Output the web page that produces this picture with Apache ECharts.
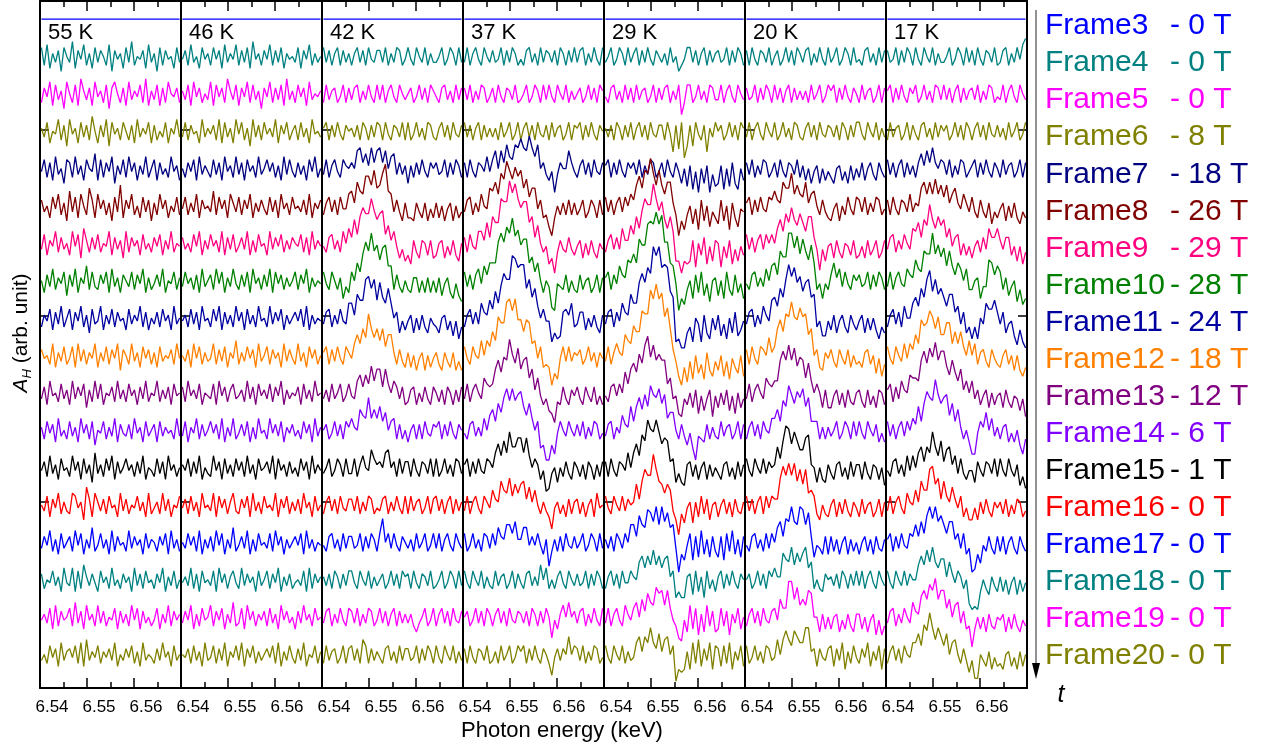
<!DOCTYPE html>
<html><head><meta charset="utf-8">
<script src="https://cdn.jsdelivr.net/npm/echarts@6/dist/echarts.min.js"></script>
<style>html,body{margin:0;padding:0;background:#fff}#c{width:1266px;height:750px}</style>
</head><body><div id="c"></div>
<script>
// ---------------- data ----------------
const temperatures = ['55 K','46 K','42 K','37 K','29 K','20 K','17 K'];
const frameNames = ['Frame3','Frame4','Frame5','Frame6','Frame7','Frame8','Frame9','Frame10','Frame11','Frame12','Frame13','Frame14','Frame15','Frame16','Frame17','Frame18','Frame19','Frame20'];
const fieldLabels = ['0 T','0 T','0 T','8 T','18 T','26 T','29 T','28 T','24 T','18 T','12 T','6 T','1 T','0 T','0 T','0 T','0 T','0 T'];
const energies = [6.5403,6.5409,6.5415,6.5421,6.5427,6.5433,6.5439,6.5445,6.5451,6.5457,
6.5463,6.5469,6.5475,6.5481,6.5487,6.5493,6.5499,6.5505,6.5511,6.5517,
6.5523,6.5529,6.5535,6.5541,6.5547,6.5553,6.5559,6.5565,6.5571,6.5577,
6.5583,6.5589,6.5595,6.5601,6.5607,6.5613,6.5619,6.5625,6.5631,6.5637,
6.5643,6.5649,6.5655,6.5661,6.5667,6.5673,6.5679,6.5685,6.5691,6.5697];
// one character per sample: '0'..'9' below the frame baseline, 'a' = baseline, 'b'..'z' above
const frame3Trace = 'aaaaaaaaaaaaaaaaaaaaaaaaaaaaaaaaaaaaaaaaaaaaaaaaaa';
const trace55K = [
'd7e6b8c5da8f6c9e7b6d8ca7e5c9b6d8f7a9c6e8b5d7c9a6d8',
'7c9e6d8b5ea7d6fb8c6e9b7d5cea7c6e8b9d7f6b8d6c7ea9c7',
'b8d6a9e7c5e9b6d8c7fa6c8e5d9b7da7c6e8b9d6c7a8d6b9e8',
'9d7c6e8a5dc7e8b6da9f6d7c9e5b8d7e9c6b8e7ad6c8a7e9b6',
'c8a6d9e7b5f8d6ea7gc6e9c7b5d8h6c9e7a6d8c5b7e9c6a8d7',
'8d6b9e7c8a6e9d5fb7c8d7a9e6c8b5e7c9b6d8a7c9d6b8e7a9',
'a6c8e7b9d5c8e6b9f7d87c9d6e8b6ca8d7c9e6b79c8e6a9d7b',
'7b9d6c8e7ad6c9e7b5d89e6b8d7c9a6d8b9e7c6a8c7d9b6e8a',
'c9a7e6b8d79d6e8c7b9e6b8d7c9e5ca7e8b6d9c7b6d8a9c7e9',
'8c6e9a7d8b6e8c9d5b7e8d6a9c7e8b7d9b6c8e7a9e7b8c6d9a',
'b7d9c6e8a7d8b6e9c7d5a9d7b8e6c98c7e9b6d8ac6d8b9a7e8',
'9c7e8b6d9a7e9c6d8b5f8b7d9e6c8ad9b7c8e6a97d8c6e9b7a',
'a8d6c9e7b87ed9b5gc6eb8c7d9a6e8c7a9d8b6e79b7e8c6a9d',
'8c9e7b6d8ac7e9d6b8f79d8b6e7c9a7e8c9b6d8ba7c9d6e8b7',
'c7a9d8b6e98e6d7fb8c96d9b7e8a7c9b6e8c7d9a7c9e6b8d7a',
'9b8d6e7c9ad7f8c6e9b7e8c7a9d6c8b7e9d6c8a79d6b8e7c9b',
'8a7d9c6e8bc9d7e6f8b9d7b9c8e6a8c9d7b6e8a97c8e9b6d8a'];
const trace46K = [
'9c7e8a6d9b7d9c6e8b9e7c8d6f9b7c9e7c8d6b9a8d6c9e7b8a',
'b8d6e9c7a8e6d9c7fb8d6c9e7d8b5c9e7c8d6f8b7d9c6e8a9b',
'8d7c9a6e8b9c7e6d8b6e9d7b5e8c7d9b8e6c9d7ac7d8b6e9a8',
'a7c9d6e8b97d8c6e9b7e8c6d9b7e8ad9c7b6e8d97c8b6d9e7a',
'9d7b8e6c9a8f7d9c6eb8d7c9e6b8c97d8c6e9b7d9a8c7e6b9c',
'c8a7d9e6b8d9b7e6c8d79c8e6b7d9a6e8c9d7b8ca9d7c6e8b9',
'8d9b7c6e8ac7e9d6b8e97c8d6e9b7c8e6d9c7b8ad7c9e6b8a9',
'9b7d8c6e9a7d9e6c8b7e9c6d8b7e9a7e8c9d6b8ac9d7e6b8a9',
'a8c6e9d7b89e7c8d6b9f7b8d9c6e8ad7c9b6e8c97e8b6d9c7a',
'c7e9b8d6a98d6e9c7bd89b7e8c6d9b8d7c9e6b8a9c6d8b7e9a',
'8d6b9e7c8ad9c7e6b8e79c8d6b7e9a7e9c8d6b9c8a7d9c6e8b',
'b9d7c8e6a87e9c6d8b7d9c7e8b6d9ac8e6d9b7c8a7d9c6e8b9',
'9c7d8b6e9a8e6d9c7be87c9d6e8b7d9a8e6c9d7b8c7e9b6d8a',
'a8d9c7e6b8c7e9d6b8f79c8e6b7d9a8d7e9c6b8ac9d6e8b7a9',
'9b8e7c6d9a8d6e9c7bd97e8c9b6d8ad7c9e6b8c79a8d6e7c9b',
'8c9e6b7d9ae7c9d6b8f78d6e9c7b9c7d8b6e9c8a6c8e9b7d9a',
'a9c7d8b6e89d7c8e6b9d8e6c9d7b8ac9d7e6b8d97c8e6a9d7b'];
const trace42K = [
'd8c7bd7c8b7bd8c7d98cc8d7b8dc79d97da8d7b88ad79db7d8',
'7d8bc79d7c8cd7b8d97d8d7bd97da8ac79d8c7db97cd8b7d8c',
'bd7c8d97cab8c7db7c8dc7d97cb8d7d79d8b7dc87bd8c7d98c',
'8d7bd97dbacaghcfbhcghcgaef8c8b5b7c8d97cac89d7c8db7',
'7bd8c7d99efbifekkhmghlofe8c85b665b86b596b6a59b5a68',
'97cd8b7eafcidjmkkplikldgbe958463b75ba6b56ab596b64a',
'd97da7b486dagdjnkqkmhlmff7c86a76bb6a6b6a6b59b64953',
'8cd7b8d98ffbiggnokngmhfkfac5969b5a6b75a875ab694937',
'bd7c8d97db9ehejgojgjfjdhhb7c86b6a59b5a69b75b86b585',
'8b7d8ad79d98egcgdjeiicidaec8c67bc6a7c86ca7b6ca6b7c',
'ac79d8c7dbebahfeleheidgade7c7a6ac7c7d98cbd7c8d97ca',
'8ad79db7d88d7bea9gdbcafgac7d8cc7d97cb8d7d79d8b7dc8',
'7bd8c7d98cc8d7b8dc798cd7b8d97d7d8bc79d7cd8c7bd7c8b',
'97cd8b7d8cc89d7c8db7diad8d97ca8b7d8ad79d8d7bd97da8',
'b8c7db7c8dd97da8d7b8ac79d8c7dbc7d97cb8d78ad79db7d8',
'8cd7b8d97dc8d7b8dc79d8c7bd7c8b8b758ad79d7bd8c7d98c',
'7d8bc79d7cd8c7fd7c8b97cd8b7d8cc89d7c8db7d97da8d7b8'];
const trace37K = [
'8d7bd97da8c89d7c8db797cd8b7d8cb8c7db7c8d8cd7b8d97d',
'c8d7b8dc79c7d97cb8d78ad79db7d8d97da8d7b8ac79d8c7db',
'd8c7bd7c8b8b7d8ad79d7bd8c7d98c7d8bc79d7cbd7c8d97ca',
'c7d97cb9e9dgagciedihkhglheiac86928caagc97bd8c7d98c',
'8cd7b8ea9gfieljpmjnkmgjdgg9c67306a7b7c7b79c68ca6c7',
'c7d98eebhcjhhpoovrupmoohjcga793507b87c869b5a6b75a8',
'd8c7ce9fcgggnqnsqvprmoogidga6a810987c6a76c7ab68c6b',
'7bd8c8fcbgdjflpnnvurssknhkead992534cdbf78cc6a7b75b',
'd97da9fafdifnllstptmmimlef9d6760429d8d8bac79d8b6b9',
'8d7bda8fdcdilhmlsnkpilmfibf96843076c86b9c86c97c696',
'97cd8b8eafhdjglokokmnifjead4500529da8da8c8d7b8dc79',
'bd7c8d98dcafiejfmhhkkfkeadb69238a5a7c86ca7b6ca6b7c',
'8d7bd97db9fcbifejdhehicgbfa7b8629b7a6c7bc7b6ac6e9a',
'd79d8b7dc8d9fcbggdhbbff9c9d96b27b7c7d98c8ad79db7d8',
'd97da8d7b87d8bc79d7c97cd8b8fae7a7bd97da8c89d7c8db7',
'ac79d8c7db7bd8c7d98cb8c7db7c8da396beafac8cd7b8d97d',
'c7d97cb8d78b7d8ad79dbd7c8d97ca739c8cagadc8d7b8dc79'];
const trace29K = [
'8ad79db7d8bd7c8d97ca8b7d8a579dd8c7bd7c8bc89d7c8db7',
'97cd8b7d8c7d8bc79d7c8cd7b8d37dd79d8b7dc88d7bd97da8',
'b8c7db7c8d7bd8c7d98cc7d93c4d15c5d97c3b8dac79d8c7db',
'bd7c8d97cac8d7b8dc79c7d97c95a4b392a5b2845b3a4c53a6',
'd8c7bd8daechkgmlqlhmheiib70527a492c5a3864c5a2b6398',
'7bd8c8fbbgdjflpnnuploifje440434b2a6c394ba295b38496',
'bd7c9fcbhgjgommtutxtwnngf90427a4c6d593ab5a4d75c694',
'8cd7c9fcbiffmpmrpyvyrsrjh2300572a82b53a6b483a5c469',
'8d7bebahfekiipoowtytvnqjc8306182a472b5385a382964a3',
'97cd9dahdikhnkqtmqlnlldf893286a5b3948b295a6b493a58',
'8cd7b9fcbidilhmipmlojmegga7c85940876c7b87d8bc79d7c',
'c7d97cb9fafieljqnmqmikjcd5854bc7b6ac6b7a86bc7a6c7b',
'd97da8d8cabhcimkkrmihehf850749b4b6d7c5ab6ac7b6c87b',
'b8c7db8daggcjgflkhmgmhkfg80649d4c5e6b5c75c4d7e6b5c',
'7bd8c7d99dbagieifkfiehibd4644bc5d6b4d7a6bd7c8d97ca',
'8d7bd97eb9dfagcifekijejd973295e6d4b5e7c56d7c4b8d6a',
'd97da8d7b89egbgejechbfgad1545b5e7f6c8e5dc6d7e5b8d6'];
const trace20K = [
'c7d97cb8d7ac79d8c7db8cd7b8d97d8ad79db7d897cd8b7d8c',
'c89d7c8db7d8c7bd7c8b8b7d8ad79dbd7c8d97ca7d8bc79d7c',
'8d7bd97da8d79d8b7dc87bd8c7d98cb8c7db7c8dd97da8d7b8',
'c8d7b8dc79c7d97cb8d7b6a59b5a6975ab695b6a7c6ac86c97',
'bd7c8d98dcfcbigglehedibefa7c8659b5a7d97dc8d7b8dc79',
'd8c7bd8dadafiekhmigkhejjc81849a5b75a96b5695b68b57b',
'97cd8b8eafgckiiqqlpjokhmg79497cgbe8d97cac89d7c8db7',
'8cd7b8eb9ghekhnsormojmnhi794496b59b75b869b5a6a6375',
'c7d97dcagbdjmionsnmqnohjac65b9c86c97c6a786bc7a4937',
'8d7bda8fdceelolqlpjmlfkeada5b559b6a5b76ab75b695ba6',
'7bd8c7da9eehdkipmjnloilddd7b7b8ad79db7d8d97da8c696',
'd97da8d8cabhdjonimjggklba5a65b86bc7a6c7bb6c86ba6a4',
'd8c7bd7d9dccjnkokoimhmefd75a76ac6b7c86b96c7ab68c6b',
'97cd8b7d8dafhcihmhgmlgkc5986c6c7b6ac6b7a6ac7b6c87b',
'ac79d8c7dbebbjhglfjgjleg7a76cab8c7db7c8d8d7bd97da8',
'7bd8c7d98cd9gddmmgkegejiaa5b6a6ab596b75bb6a59b4947',
'd79d8b7dc89fafifdigeejjbc6c98cd6c8e5b7d97c9e6b8d5c'];
const trace17K = [
'c89d7c8db7d97da8d7b88ad79db7d8c7d97cb8d78cd7b8d9eg',
'bd7c8d97cad79d8b7dc8d8c7bd7c8bc8d7b8dc798d7bd97da8',
'7d8bc79d7c97cd8b7d8cac79d8c7db7bd8c7d98c8b7d8ad79d',
'd8c7bd7c8b7cfbgchcadc8d7b8dc79bd7c8d97ca7d8bc79d7c',
'c7d97cb8e8bagieiejehdhbegb9eb8d86c86b4869b5a6b6486',
'8cd7b8da8fehcignifjgicf9cd6a6959b7c8fccfb8cc694937',
'8d7bd98ecbhedkjjqjmilfkfcgeae77ab488hgcfd7b58a3724',
'7bd8c7eaafhekhnqjnikheiice8c57373a8fddgc8c58941620',
'd97da8e9echemklpnjnhhlleieidafae7bc86c976ac7a5a536',
'bd7c8ebagffelokpmrloojglheibeae8b69b5a69a5b7598482',
'd8c7bd8daecidjnlkrmjlmfjdhb7a6229dbgae8b7bc696a527',
'97cd8b7e9eafhchfmhejcghbe8d86995c97cb8d7d97d97b473',
'8d7bd97ebafbiffmnhjcidbgc9d695595b7c86b9b7c6a7cb68',
'bd7c8d98dcgchdjmimhjgdhhbd8d68016397c86c7c6ac86c97',
'd97da8d8caafifkglgehhbgc9db7a20106a75b86b6a59b5a69',
'8cd7b8da8fcbhjgljngjjdgaef8c6706a6a5b76a9b5a6b7597',
'7bd8c7da9eehdkiojfjgdhaefa7c84822a86b59675ab695b6a'];

// ---------------- styles / layout ----------------
const frameColors = ['#0000FF','#008080','#FF00FF','#808000','#000080','#800000','#FF0080','#008000','#0000A0','#FF8000','#800080','#8000FF','#000000','#FF0000','#0000FF','#008080','#FF00FF','#808000'];
const FONT = '"Liberation Sans", Arial, Helvetica, sans-serif';
const LEVELS = '0123456789abcdefghijklmnopqrstuvwxyz';
const LEVEL_STEP = 0.08;     // y units per character level
const FRAME_GAP = 1.005;     // vertical offset between frames (y units)
const LOWEST_BASE = 0.9;     // baseline of the last frame
const Y_MAX = 18.47;
const PANEL_W = 141, LEFT0 = 40, TOP = 1, PLOT_H = 687;

function decode(s) { return Array.from(s).map(c => (LEVELS.indexOf(c) - 10) * LEVEL_STEP); }

const panels = [trace55K, trace46K, trace42K, trace37K, trace29K, trace20K, trace17K];
const grids = [], xAxes = [], yAxes = [], series = [];
const axisLineStyle = { color: '#000', width: 2 };
const tickStyle = { color: '#000', width: 1.5 };

panels.forEach((traces, p) => {
  grids.push({ left: LEFT0 + p * PANEL_W, width: PANEL_W, top: TOP, height: PLOT_H, containLabel: false, outerBoundsMode: 'none' });
  const xBase = {
    type: 'value', gridIndex: p, min: 6.54, max: 6.57, interval: 0.01,
    axisLine: { show: true, onZero: false, lineStyle: axisLineStyle },
    axisTick: { show: true, inside: true, length: 10, lineStyle: tickStyle },
    minorTick: { show: true, splitNumber: 2, length: 6, lineStyle: tickStyle },
    splitLine: { show: false }, minorSplitLine: { show: false }
  };
  xAxes.push(Object.assign({}, xBase, {
    position: 'bottom',
    axisLabel: { show: true, showMinLabel: true, showMaxLabel: false, margin: 11, color: '#000',
      fontSize: 17, fontFamily: FONT, padding: [0, 0, 0, 24], formatter: v => v.toFixed(2) }
  }));
  xAxes.push(Object.assign({}, xBase, { position: 'top', axisLabel: { show: false } }));
  yAxes.push({
    type: 'value', gridIndex: p, position: 'left', min: 0, max: Y_MAX, interval: 5,
    axisLine: { show: true, onZero: false, lineStyle: axisLineStyle },
    axisTick: { show: true, inside: true, length: 9, lineStyle: tickStyle },
    axisLabel: { show: false }, splitLine: { show: false }
  });

  const all = [frame3Trace].concat(traces);
  all.forEach((s, f) => {
    const base = LOWEST_BASE + (frameNames.length - 1 - f) * FRAME_GAP;
    const vals = decode(s);
    series.push({
      type: 'line', xAxisIndex: 2 * p, yAxisIndex: p,
      data: vals.map((v, i) => [energies[i], +(base + v).toFixed(3)]),
      symbol: 'none', silent: true, animation: false,
      lineStyle: { color: frameColors[f], width: 1.3 }
    });
  });
});
// right border axis of the last panel
yAxes.push({
  type: 'value', gridIndex: panels.length - 1, position: 'right', min: 0, max: Y_MAX, interval: 5,
  axisLine: { show: true, onZero: false, lineStyle: axisLineStyle },
  axisTick: { show: true, inside: true, length: 9, lineStyle: tickStyle },
  axisLabel: { show: false }, splitLine: { show: false }
});

const graphics = [];
temperatures.forEach((t, p) => graphics.push({
  type: 'text', x: LEFT0 + p * PANEL_W + 8, y: 33, z: 100,
  style: { text: t, fontSize: 22, fontFamily: FONT, fill: '#000', align: 'left', verticalAlign: 'middle' }
}));
frameNames.forEach((n, f) => {
  const y = 26 + f * 37.06;
  graphics.push({ type: 'text', x: 1045, y,
    style: { text: n, fontSize: 30, fontFamily: FONT, fill: frameColors[f], align: 'left', verticalAlign: 'middle' } });
  graphics.push({ type: 'text', x: 1170, y,
    style: { text: '- ' + fieldLabels[f], fontSize: 30, fontFamily: FONT, fill: frameColors[f], align: 'left', verticalAlign: 'middle' } });
});
graphics.push({ type: 'line', shape: { x1: 1036, y1: 10, x2: 1036, y2: 666 }, style: { stroke: '#6e6e6e', lineWidth: 1.5 } });
graphics.push({ type: 'polygon', shape: { points: [[1032, 663], [1040, 663], [1036, 679]] }, style: { fill: '#000' } });
graphics.push({ type: 'text', x: 1061, y: 695,
  style: { text: 't', fontSize: 25, fontStyle: 'italic', fontFamily: FONT, fill: '#000', align: 'center', verticalAlign: 'middle' } });
graphics.push({ type: 'text', x: 562, y: 731,
  style: { text: 'Photon energy (keV)', fontSize: 22, fontFamily: FONT, fill: '#000', align: 'center', verticalAlign: 'middle' } });
graphics.push({ type: 'text', x: 21, y: 333, rotation: Math.PI / 2,
  style: { text: '{a|A}{b|H}{c| (arb. unit)}', fill: '#000', align: 'center', verticalAlign: 'middle',
    rich: {
      a: { fontSize: 21, fontStyle: 'italic', fontFamily: FONT, fill: '#000' },
      b: { fontSize: 13, fontStyle: 'italic', fontFamily: FONT, fill: '#000', padding: [12, 0, 0, 0] },
      c: { fontSize: 21, fontFamily: FONT, fill: '#000' }
    } } });

const chart = echarts.init(document.getElementById('c'), null, { renderer: 'canvas' });
chart.setOption({
  animation: false,
  backgroundColor: '#fff',
  grid: grids, xAxis: xAxes, yAxis: yAxes, series: series,
  graphic: graphics
});
</script></body></html>
